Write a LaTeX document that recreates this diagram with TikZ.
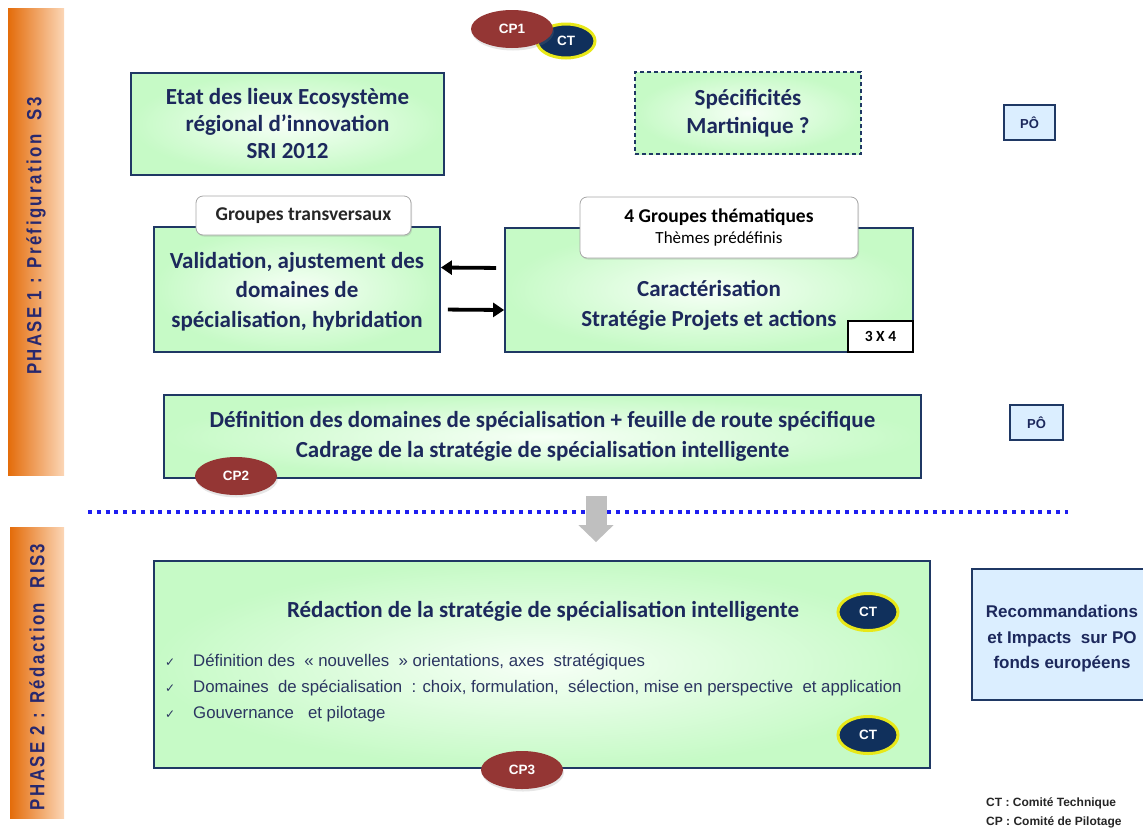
\documentclass[tikz,border=0pt]{standalone}
\usepackage{fontspec}
\setmainfont{Carlito}
\newfontfamily\arialf{Liberation Sans}
\newfontfamily\arialnarrow{Liberation Sans}[FakeStretch=0.82, LetterSpace=12]
\newfontfamily\symf{DejaVu Sans}
\usetikzlibrary{shapes.geometric,arrows.meta,shadows}

\definecolor{navy}{RGB}{31,56,100}
\definecolor{ink}{RGB}{28,40,92}
\definecolor{boxgreen}{RGB}{198,250,198}
\definecolor{boxcentre}{RGB}{246,255,246}
\definecolor{paleblue}{RGB}{219,238,255}
\definecolor{cpred}{RGB}{148,54,52}
\definecolor{ctnavy}{RGB}{16,48,92}
\definecolor{ctyellow}{RGB}{232,232,24}
\definecolor{phdark}{RGB}{228,108,10}
\definecolor{phlight}{RGB}{251,214,182}
\definecolor{dotblue}{RGB}{30,30,240}
\definecolor{phtext}{RGB}{40,40,110}
\definecolor{arrowgrey}{RGB}{191,191,191}

\begin{document}
\begin{tikzpicture}[x=1pt,y=-1pt,
  greenbox/.style={draw=navy, line width=1.8pt, inner color=boxcentre,
    outer color=boxgreen, align=center, text=ink, inner sep=0pt},
  bluebox/.style={draw=navy, line width=1.8pt, fill=paleblue, align=center,
    text=ink, inner sep=0pt},
  tagbox/.style={draw=black!35, line width=0.8pt, fill=white, rounded corners=7pt,
    align=center, text=black!85, inner sep=0pt,
    drop shadow={shadow xshift=1pt, shadow yshift=-1.5pt, opacity=0.25}},
  phasebar/.style={left color=phdark, right color=phlight, draw=none},
  phaselabel/.style={rotate=90, text=phtext,
    font=\arialnarrow\bfseries\fontsize{20.5}{22}\selectfont},
  cpoval/.style={ellipse, fill=cpred, text=white, inner sep=0pt,
    minimum width=82pt, minimum height=38pt,
    font=\arialf\bfseries\fontsize{13.5}{15}\selectfont,
    drop shadow={shadow xshift=1pt, shadow yshift=-2.5pt, opacity=0.2}},
  ctoval/.style={ellipse, fill=ctnavy, draw=ctyellow, line width=3pt, text=white,
    inner sep=0pt, minimum width=58pt, minimum height=34pt,
    font=\arialf\bfseries\fontsize{13.5}{15}\selectfont},
  linkarrow/.style={line width=3.8pt, -{Triangle[length=11pt,width=14pt]}},
  blockarrow/.style={line width=21pt, draw=arrowgrey,
    -{Triangle[length=17pt,width=34pt]}},
  mainfont/.style={font=\bfseries\fontsize{23}{28.5}\selectfont}
]
\useasboundingbox (0,0) rectangle (1143,831);

% phase bands
\path[phasebar] (8,8) rectangle (64,475);
\node[phaselabel] (ph1) at (36,236) {PHASE 1 : Préfiguration~ S3};
\path[phasebar] (10,527) rectangle (64,818);
\node[phaselabel] (ph2) at (37,677) {PHASE 2 : Rédaction~ RIS3};

% committees at the top
\node[ctoval] (ct1) at (566,41) {CT};
\node[cpoval] (cp1) at (512,29) {CP1};

% phase 1 boxes
\node[greenbox, mainfont, minimum width=313pt, minimum height=102pt] (etat)
  at (287.5,124) {Etat des lieux Ecosystème\\[-1.5pt]régional d’innovation\\[-1.5pt]SRI 2012};
\node[greenbox, mainfont, dashed, dash pattern=on 4pt off 3pt, line width=1.5pt,
  minimum width=226pt, minimum height=82pt] (spec)
  at (748,113) {Spécificités\\Martinique ?};
\node[bluebox, minimum width=51pt, minimum height=35pt,
  font=\arialf\bfseries\fontsize{13}{15}\selectfont] (po1) at (1029.5,122.5) {PÔ};

\node[greenbox, minimum width=286pt, minimum height=125pt] (valid) at (297,289.5) {};
\node[text=ink, font=\bfseries\fontsize{23}{29.5}\selectfont, align=center]
  (validtext) at (297,291.5)
  {Validation, ajustement des\\domaines de\\spécialisation, hybridation};
\node[tagbox, minimum width=215pt, minimum height=39pt,
  font=\bfseries\fontsize{19.5}{21}\selectfont] (gt) at (303.5,215.5)
  {Groupes transversaux};

\node[greenbox, minimum width=408pt, minimum height=124pt] (car) at (709,290) {};
\node[text=ink, mainfont, align=center] (cartext) at (709,305.5)
  {Caractérisation\\[1pt]Stratégie Projets et actions};
\node[tagbox, minimum width=278pt, minimum height=61pt, text=black] (gth)
  at (719,227.5)
  {{\bfseries\fontsize{19.5}{21}\selectfont 4 Groupes thématiques}\\[6pt]
   {\fontsize{17}{19}\selectfont Thèmes prédéfinis}};
\node[draw=black, line width=1.6pt, fill=white, minimum width=65pt,
  minimum height=31pt, inner sep=0pt, text=black,
  font=\bfseries\fontsize{15.5}{17}\selectfont] (trois) at (880.5,336.5)
  {\raisebox{-4pt}{3 X 4}};

% exchanges between the two working groups
\draw[linkarrow, shorten <=8pt] ([yshift=22pt]car.west) -- ([yshift=22pt]valid.east);
\draw[linkarrow, shorten <=7pt] ([yshift=-20pt]valid.east) -- ([yshift=-20pt]car.west);

\node[greenbox, mainfont, minimum width=757pt, minimum height=83pt] (def)
  at (542.5,436.5)
  {Définition des domaines de spécialisation + feuille de route spécifique\\[1pt]
   Cadrage de la stratégie de spécialisation intelligente};
\node[bluebox, minimum width=53pt, minimum height=35pt,
  font=\arialf\bfseries\fontsize{13}{15}\selectfont] (po2) at (1036.5,422.5) {PÔ};
\node[cpoval] (cp2) at (236,476) {CP2};

% boundary between the phases
\draw[dotblue, line width=4pt, dash pattern=on 4pt off 4.8pt] (88,512) -- (1068,512);

% phase 2
\node[greenbox, minimum width=776pt, minimum height=207pt] (red) at (542,664.5) {};
\coordinate (gx) at (596,0);
\draw[blockarrow, shorten <=17pt, shorten >=18pt] (def.south -| gx) -- (red.north -| gx);

\node[text=ink, font=\bfseries\fontsize{23}{26}\selectfont] (redtitle) at (543,611)
  {Rédaction de la stratégie de spécialisation intelligente};
\node[anchor=west, align=left, text=ink!85!gray, inner sep=0pt,
  font=\arialf\fontsize{16.8}{26}\selectfont] (bullets) at (165,688)
  {\makebox[28pt][l]{\symf\fontsize{12}{14}\selectfont ✓}Définition des~ « nouvelles~ » orientations, axes~ stratégiques\\
   \makebox[28pt][l]{\symf\fontsize{12}{14}\selectfont ✓}Domaines~ de spécialisation~ : choix, formulation,~ sélection, mise en perspective~ et application\\
   \makebox[28pt][l]{\symf\fontsize{12}{14}\selectfont ✓}Gouvernance~~ et pilotage};
\node[ctoval, minimum width=60pt, minimum height=37pt] (ct2) at (868,612) {CT};
\node[ctoval, minimum width=60pt, minimum height=37pt] (ct3) at (868,735) {CT};
\node[cpoval] (cp3) at (522,770) {CP3};

\node[bluebox, minimum width=180pt, minimum height=131pt] (reco) at (1062,634.5) {};
\node[text=ink, align=center, font=\arialf\bfseries\fontsize{17}{25.5}\selectfont]
  (recotext) at (1062,639) {Recommandations\\et Impacts~ sur PO\\fonds européens};

% legend
\node[anchor=west, align=left, inner sep=0pt, text=black!85,
  font=\arialf\bfseries\fontsize{12}{19}\selectfont] (legend) at (986,812.5)
  {CT : Comité Technique\\CP : Comité de Pilotage};
\end{tikzpicture}
\end{document}
